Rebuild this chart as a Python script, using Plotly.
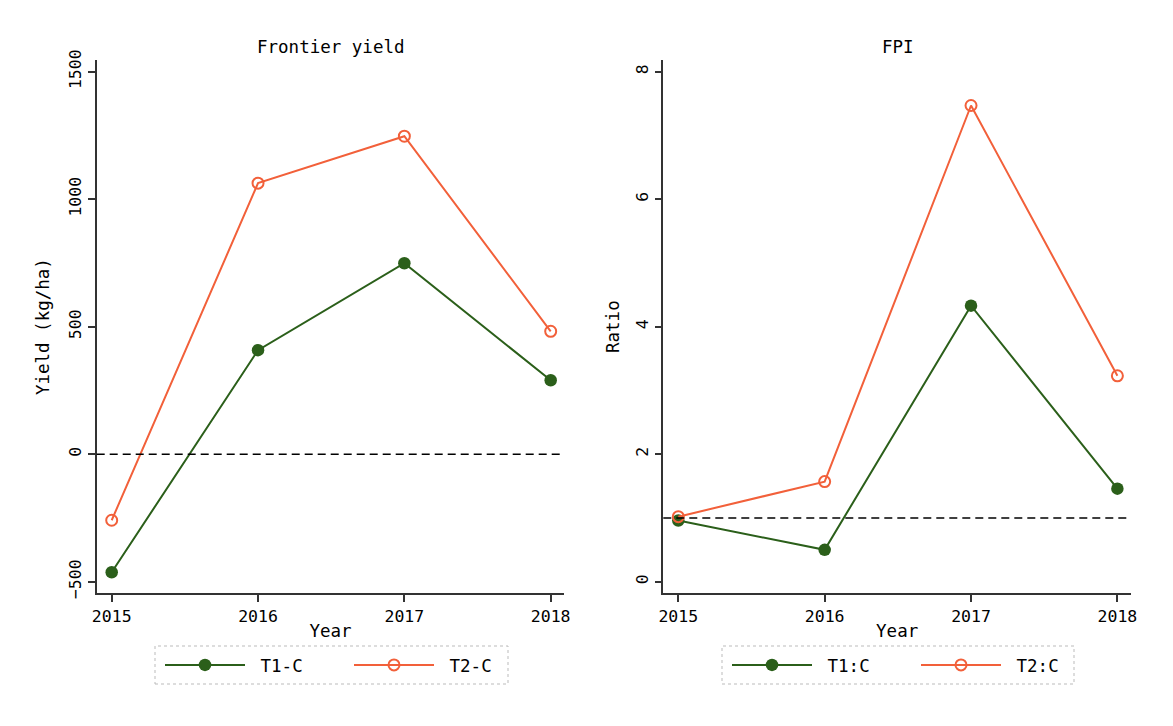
import plotly.graph_objects as go

years = [2015, 2016, 2017, 2018]
yield_t1 = [-463, 408, 749, 290]
yield_t2 = [-259, 1063, 1247, 482]
fpi_t1 = [0.96, 0.50, 4.33, 1.46]
fpi_t2 = [1.02, 1.57, 7.47, 3.23]

yield_ticks = [-500, 0, 500, 1000, 1500]
fpi_ticks = [0, 2, 4, 6, 8]
year_ticks = [2015, 2016, 2017, 2018]

GREEN = "#2b5f1a"
ORANGE = "#f2603a"
FONT = "DejaVu Sans Mono"
W, H = 1173, 726
TICK = 16.5
TXT = 17.5
NB = "\u00a0"

fig = go.Figure()

def add_pair(t1, t2, names, xa, ya, leg):
    fig.add_trace(go.Scatter(x=years, y=t1, mode="lines+markers", name=NB + names[0],
                             line=dict(color=GREEN, width=2),
                             marker=dict(color=GREEN, size=12.5, symbol="circle"),
                             xaxis=xa, yaxis=ya, legend=leg))
    fig.add_trace(go.Scatter(x=years, y=t2, mode="lines+markers", name=NB + names[1],
                             line=dict(color=ORANGE, width=2),
                             marker=dict(color=ORANGE, size=11, symbol="circle-open",
                                         line=dict(width=2, color=ORANGE)),
                             xaxis=xa, yaxis=ya, legend=leg))

add_pair(yield_t1, yield_t2, ["T1-C", "T2-C"], "x", "y", "legend")
add_pair(fpi_t1, fpi_t2, ["T1:C", "T2:C"], "x2", "y2", "legend2")

ydom = [1 - 593.3 / H, 1 - 60 / H]
xdom1 = [96.7 / W, 564.3 / W]
xdom2 = [663.3 / W, 1131 / W]

axis_common = dict(showline=True, linecolor="#333333", linewidth=1.5, ticks="outside",
                   ticklen=7, tickcolor="#333333", tickwidth=1.5, showgrid=False,
                   zeroline=False, automargin=False,
                   tickfont=dict(family=FONT, size=TICK, color="black"))

legend_common = dict(orientation="h", yanchor="middle", xanchor="left",
                     itemwidth=80, entrywidth=94, bgcolor="rgba(0,0,0,0)",
                     font=dict(family=FONT, size=TXT))

fig.update_layout(
    width=W, height=H, margin=dict(l=0, r=0, t=0, b=0, autoexpand=False),
    paper_bgcolor="white", plot_bgcolor="white",
    font=dict(family=FONT, size=TXT, color="black"),
    xaxis=dict(domain=xdom1, anchor="y", range=[2014.8975, 2018.093], tickvals=year_ticks,
               title=dict(text="Year", standoff=0, font=dict(size=TXT)), **axis_common),
    yaxis=dict(domain=ydom, anchor="x", range=[-545.5, 1545.9], tickvals=yield_ticks,
               tickangle=-90, title=dict(text="Yield (kg/ha)", standoff=12, font=dict(size=TXT)),
               **axis_common),
    xaxis2=dict(domain=xdom2, anchor="y2", range=[2014.8975, 2018.093], tickvals=year_ticks,
                title=dict(text="Year", standoff=0, font=dict(size=TXT)), **axis_common),
    yaxis2=dict(domain=ydom, anchor="x2", range=[-0.182, 8.184], tickvals=fpi_ticks,
                tickangle=-90, title=dict(text="Ratio", standoff=9, font=dict(size=TXT)),
                **axis_common),
    legend=dict(x=160 / W, y=1 - 665 / H, **legend_common),
    legend2=dict(x=727 / W, y=1 - 665 / H, **legend_common),
    showlegend=True,
)

# subplot titles
fig.add_annotation(text="Frontier yield", x=331 / W, y=1 - 47 / H, xref="paper", yref="paper",
                   xanchor="center", yanchor="middle",
                   showarrow=False, font=dict(family=FONT, size=TXT))
fig.add_annotation(text="FPI", x=898 / W, y=1 - 47 / H, xref="paper", yref="paper",
                   xanchor="center", yanchor="middle",
                   showarrow=False, font=dict(family=FONT, size=TXT))

# reference lines
fig.add_shape(type="line", xref="x domain", yref="y", x0=0, x1=1, y0=0, y1=0,
              line=dict(color="black", width=1.5, dash="8px,5px"))
fig.add_shape(type="line", xref="x2 domain", yref="y2", x0=0, x1=1, y0=1, y1=1,
              line=dict(color="black", width=1.5, dash="8px,5px"))

# dotted legend boxes
for x0, x1 in [(155, 508), (722, 1074)]:
    fig.add_shape(type="rect", xref="paper", yref="paper", x0=x0 / W, x1=x1 / W,
                  y0=1 - 684 / H, y1=1 - 646 / H,
                  line=dict(color="#bbbbbb", width=1, dash="dot"))

fig.write_html("out.html", config={"displayModeBar": False},
               post_script="document.body.style.margin='0';")
